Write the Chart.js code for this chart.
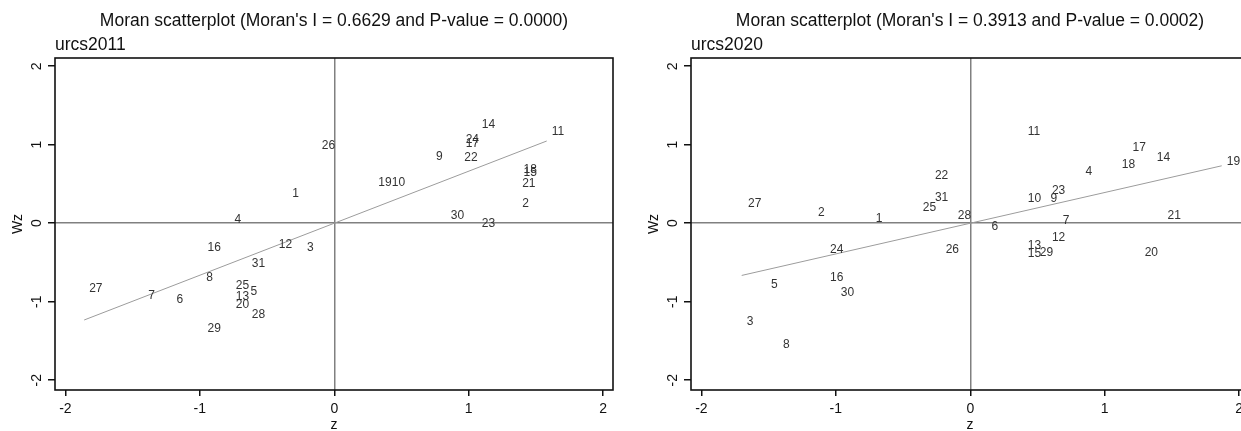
<!DOCTYPE html>
<html>
<head>
<meta charset="utf-8">
<script src="https://cdn.jsdelivr.net/npm/chart.js@4.4.0/dist/chart.umd.min.js"></script>
<style>
  html, body { margin: 0; padding: 0; background: #fff; overflow: hidden; width: 1241px; height: 431px; }
  canvas { position: absolute; top: 0; }
  #left { left: 0; }
  #right { left: 636px; }
</style>
</head>
<body>
<canvas id="left" width="620" height="431"></canvas>
<canvas id="right" width="620" height="431"></canvas>
<script>
// region ids, 1..31
const regions = ['1','2','3','4','5','6','7','8','9','10','11','12','13','14','15','16',
                 '17','18','19','20','21','22','23','24','25','26','27','28','29','30','31'];

// urcs2011: standardized value z and spatial lag Wz, per region
const z2011  = [-0.35, 1.36, -0.24, -0.78, -0.66, -1.21, -1.42, -0.99, 0.72, 0.39,
                 1.58, -0.45, -0.77, 1.06, 1.37, -0.98, 0.94, 1.37, 0.29, -0.77,
                 1.36, 0.93, 1.06, 0.94, -0.77, -0.13, -1.86, -0.65, -0.98, 0.83, -0.65];
const wz2011 = [0.38, 0.25, -0.31, 0.05, -0.87, -0.98, -0.92, -0.70, 0.85, 0.51,
                1.16, -0.27, -0.93, 1.25, 0.65, -0.31, 1.01, 0.68, 0.51, -1.04,
                0.50, 0.84, 0.00, 1.07, -0.80, 0.99, -0.84, -1.17, -1.34, 0.10, -0.51];

// urcs2020
const z2020  = [-0.74, -1.17, -1.70, 0.82, -1.52, 0.12, 0.65, -1.43, 0.56, 0.39,
                 0.39, 0.57, 0.39, 1.35, 0.39, -1.08, 1.17, 1.09, 1.87, 1.26,
                 1.43, -0.30, 0.57, -1.08, -0.39, -0.22, -1.69, -0.13, 0.48, -1.00, -0.30];
const wz2020 = [0.06, 0.13, -1.25, 0.66, -0.78, -0.05, 0.03, -1.55, 0.31, 0.31,
                1.16, -0.18, -0.29, 0.83, -0.39, -0.70, 0.96, 0.75, 0.78, -0.38,
                0.10, 0.61, 0.42, -0.34, 0.20, -0.34, 0.25, 0.09, -0.37, -0.89, 0.32];

const variables = ['urcs2011', 'urcs2020'];
const moranI = [0.6629, 0.3913];
const pValues = ['0.0000', '0.0002'];
const axisTicks = [-2, -1, 0, 1, 2];

const FONT = '"Liberation Sans", Arial, sans-serif';
const INK = '#111';

const frame = {
  id: 'frame',
  afterDraw(chart) {
    const {ctx, chartArea: a} = chart;
    ctx.save();
    ctx.strokeStyle = INK;
    ctx.lineWidth = 1.6;
    ctx.strokeRect(a.left, a.top, a.right - a.left, a.bottom - a.top);
    ctx.restore();
  }
};

// Stata-style y tick labels, turned on their side
const yTickLabels = {
  id: 'yTickLabels',
  afterDraw(chart) {
    const s = chart.scales.y;
    const ctx = chart.ctx;
    ctx.save();
    ctx.font = '14px ' + FONT;
    ctx.fillStyle = INK;
    ctx.textAlign = 'center';
    ctx.textBaseline = 'middle';
    s.ticks.forEach(t => {
      ctx.save();
      ctx.translate(37, s.getPixelForValue(t.value));
      ctx.rotate(-Math.PI / 2);
      ctx.fillText(String(t.value), 0, 0);
      ctx.restore();
    });
    ctx.restore();
  }
};

const pointLabels = {
  id: 'pointLabels',
  afterDatasetsDraw(chart) {
    const meta = chart.getDatasetMeta(0);
    const ctx = chart.ctx;
    ctx.save();
    ctx.font = '12px ' + FONT;
    ctx.fillStyle = '#333';
    ctx.textAlign = 'left';
    ctx.textBaseline = 'middle';
    meta.data.forEach((pt, i) => ctx.fillText(regions[i], pt.x + 5, pt.y));
    ctx.restore();
  }
};

function moranChart(id, z, wz, k) {
  const zmin = Math.min(...z), zmax = Math.max(...z);
  const I = moranI[k];
  return new Chart(document.getElementById(id), {
    type: 'scatter',
    data: {
      datasets: [
        {
          data: z.map((v, i) => ({x: v, y: wz[i]})),
          pointRadius: 0,
          pointHoverRadius: 0
        },
        {
          data: [{x: zmin, y: I * zmin}, {x: zmax, y: I * zmax}],
          showLine: true,
          borderColor: '#9c9c9c',
          borderWidth: 1,
          pointRadius: 0
        }
      ]
    },
    options: {
      responsive: false,
      animation: false,
      events: [],
      layout: { padding: {left: 0, right: 7, top: 0, bottom: 0} },
      scales: {
        x: {
          min: -2.077, max: 2.073,
          afterBuildTicks: s => { s.ticks = axisTicks.map(v => ({value: v})); },
          afterFit: s => { s.height = 41; },
          grid: {
            color: c => (c.tick && c.tick.value === 0) ? '#808080' : 'rgba(0,0,0,0)',
            lineWidth: 1.5,
            tickColor: INK,
            tickLength: 6
          },
          border: { display: false },
          ticks: { color: INK, font: {family: FONT, size: 14}, padding: 5, maxRotation: 0, autoSkip: false },
          title: { display: true, text: 'z', color: INK, font: {family: FONT, size: 14, lineHeight: 1}, padding: {top: 0, bottom: -1} }
        },
        y: {
          min: -2.125, max: 2.105,
          afterBuildTicks: s => { s.ticks = axisTicks.map(v => ({value: v})); },
          afterFit: s => { s.width = 55; },
          grid: {
            color: c => (c.tick && c.tick.value === 0) ? '#808080' : 'rgba(0,0,0,0)',
            lineWidth: 1.5,
            tickColor: INK,
            tickLength: 7
          },
          border: { display: false },
          ticks: { display: false },
          title: { display: true, text: 'Wz', color: INK, font: {family: FONT, size: 14}, padding: {top: 10, bottom: 0} }
        }
      },
      plugins: {
        legend: { display: false },
        tooltip: { enabled: false },
        title: {
          display: true,
          fullSize: false,
          text: "Moran scatterplot (Moran's I = " + I.toFixed(4) + ' and P-value = ' + pValues[k] + ')',
          color: INK,
          font: {family: FONT, size: 17.5, weight: 'normal', lineHeight: 1.2},
          padding: {top: 10.5, bottom: 0}
        },
        subtitle: {
          display: true,
          fullSize: false,
          align: 'start',
          text: variables[k],
          color: INK,
          font: {family: FONT, size: 17.5, weight: 'normal', lineHeight: 1.2},
          padding: {top: 3, bottom: 2.5}
        }
      }
    },
    plugins: [frame, yTickLabels, pointLabels]
  });
}

moranChart('left', z2011, wz2011, 0);
moranChart('right', z2020, wz2020, 1);
</script>
</body>
</html>
